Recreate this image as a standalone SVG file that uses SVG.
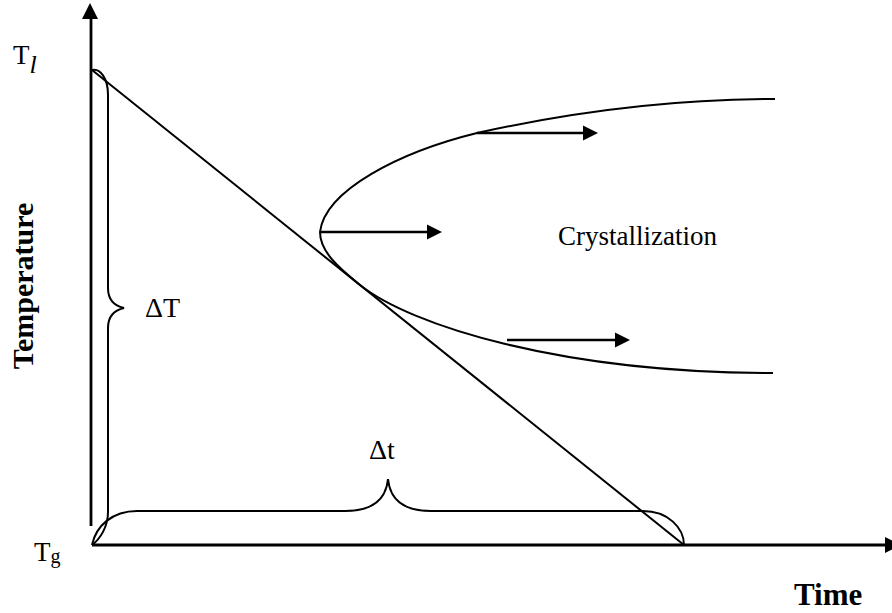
<svg xmlns="http://www.w3.org/2000/svg" width="892" height="613" viewBox="0 0 892 613">
<style>
.ln{fill:none;stroke:#000;stroke-width:2;stroke-linecap:butt}
.ax{fill:none;stroke:#000;stroke-width:2.8}
.ar{fill:none;stroke:#000;stroke-width:2.6}
.hd{fill:#000;stroke:none}
.t{font-family:"Liberation Serif","Times New Roman",serif;fill:#000}
.b{font-weight:bold}
</style>
<rect width="892" height="613" fill="#fff"/>
<g id="axes">
<line class="ax" x1="91" y1="526" x2="91" y2="17"/>
<polygon class="hd" points="90,3 82,19 98,19"/>
<line class="ax" x1="92" y1="545" x2="886" y2="545"/>
<polygon class="hd" points="885,537 885,553 901,545"/>
</g>
<g id="cooling-line">
<line class="ln" x1="92" y1="70" x2="684" y2="545"/>
</g>
<g id="ttt-curve">
<path class="ln" d="M775,99 C690,99 590,108 477,133 C400,152 325,190 320,232 C320,252 340,269 360,285 C410,325 560,373 773,373"/>
</g>
<g id="brace-dT">
<path class="ln" d="M92,70 C100,68 108,78 108,95 L108,288 C108,300 115,306 124,308 C115,310 108,316 108,328 L108,512 C108,527 100,539 92,545"/>
</g>
<g id="brace-dt">
<path class="ln" d="M92,545 C96,526 112,511 137,511 L345,511 C372,511 386,500 388,479 C390,500 404,511 431,511 L643,511 C668,511 684,528 684,545"/>
</g>
<g id="connectors">
<line class="ar" x1="477" y1="133" x2="585" y2="133"/>
<polygon class="hd" points="583,125.5 583,140.5 598,133"/>
<line class="ar" x1="320" y1="232" x2="429" y2="232"/>
<polygon class="hd" points="427,224.5 427,239.5 442,232"/>
<line class="ar" x1="507" y1="340" x2="617" y2="340"/>
<polygon class="hd" points="615,332.5 615,347.5 630,340"/>
</g>
<g id="labels">
<text class="t" x="13" y="64" font-size="27">T<tspan font-style="italic" dy="9" font-size="26">l</tspan></text>
<text class="t" x="34" y="561" font-size="27">T<tspan font-size="20" dy="2">g</tspan></text>
<text class="t b" font-size="30" transform="translate(33,286) rotate(-90)" text-anchor="middle">Temperature</text>
<text class="t" x="145" y="317" font-size="28">ΔT</text>
<text class="t" x="369" y="459" font-size="28">Δt</text>
<text class="t" x="558" y="245" font-size="27">Crystallization</text>
<text class="t b" x="794" y="605" font-size="31">Time</text>
</g>
</svg>
